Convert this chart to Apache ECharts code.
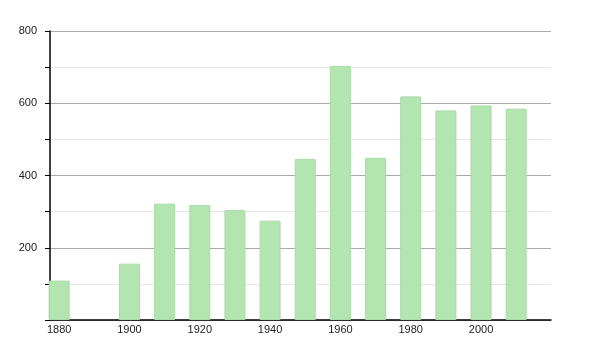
<!DOCTYPE html>
<html>
<head>
<meta charset="utf-8">
<script src="https://cdn.jsdelivr.net/npm/echarts@6/dist/echarts.min.js"></script>
<style>html,body{margin:0;padding:0;background:#fff}#c{width:600px;height:350px}</style>
</head>
<body>
<div id="c"></div>
<script>
const years = [1880, 1900, 1910, 1920, 1930, 1940, 1950, 1960, 1970, 1980, 1990, 2000, 2010];
const population = [109, 156, 322, 318, 304, 275, 446, 703, 449, 619, 580, 594, 585];
const xTickLabels = [1880, 1900, 1920, 1940, 1960, 1980, 2000];
const yTickLabels = [200, 400, 600, 800];

const chart = echarts.init(document.getElementById('c'), null, {renderer: 'canvas'});
chart.setOption({
  animation: false,
  grid: {left: 50, right: 49, top: 31, bottom: 30},
  xAxis: {
    type: 'value', min: 1877.4, max: 2019.9,
    axisLine: {show: true, lineStyle: {color: '#000', width: 1.5}},
    axisTick: {show: false},
    splitLine: {show: false},
    axisLabel: {customValues: xTickLabels, color: '#222', fontSize: 11, fontFamily: 'Liberation Sans', margin: 4,
      formatter: v => String(v)}
  },
  yAxis: {
    type: 'value', min: 0, max: 800, interval: 100,
    axisLine: {show: true, lineStyle: {color: '#000', width: 1.5}},
    axisTick: {show: true, length: 5, lineStyle: {color: '#000'}},
    splitLine: {show: true, lineStyle: {color: ['#aaaaaa', '#e6e6e6'], width: 1}},
    axisLabel: {color: '#222', fontSize: 11, fontFamily: 'Liberation Sans', margin: 13,
      formatter: v => yTickLabels.indexOf(v) >= 0 ? String(v) : ''}
  },
  series: [{
    type: 'bar',
    data: years.map((y, i) => [y, population[i]]),
    barWidth: 21,
    itemStyle: {color: '#b3e5b1', borderColor: '#aadaa8', borderWidth: 1}
  }]
});
</script>
</body>
</html>
